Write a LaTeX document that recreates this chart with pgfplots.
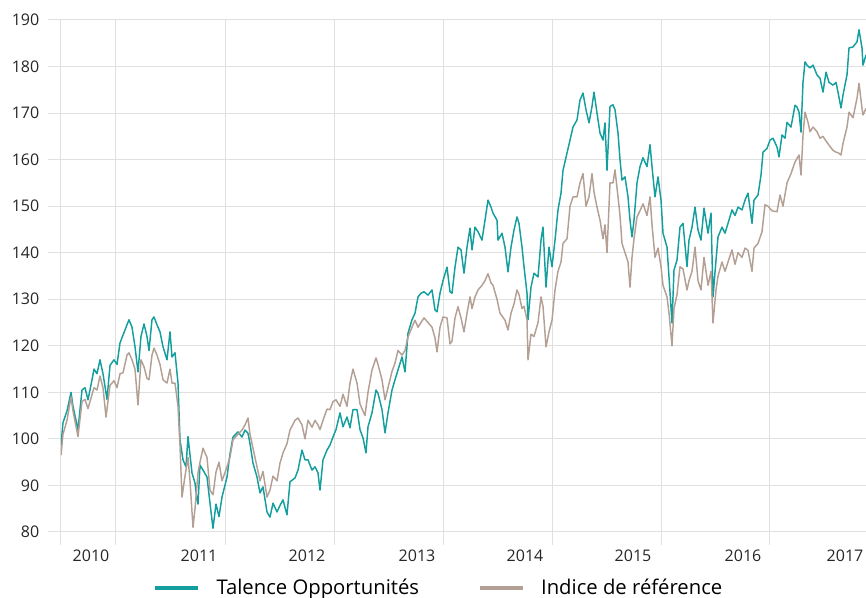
\documentclass[border=0pt]{standalone}
\usepackage{pgfplots}
\pgfplotsset{compat=1.18}
\usepackage{fontspec}
\setmainfont{Open Sans}
\definecolor{teal1}{RGB}{20,158,158}
\definecolor{beige1}{RGB}{180,159,148}
\definecolor{gridgray}{RGB}{224,224,224}
\begin{document}
\begin{tikzpicture}
\begin{axis}[
  width=603.75pt, height=384pt, scale only axis,
  xmin=61, xmax=866, ymin=80, ymax=190,
  axis line style={draw=none},
  tick pos=left, tick align=outside,
  major tick length=9.75pt,
  ytick={80,90,...,190},
  ymajorgrids,
  grid style={gridgray, line width=0.75pt},
  ytick style={gridgray, line width=0.75pt},
  xtick={91,199,307,417,525,633,743,845},
  xticklabels={2010,2011,2012,2013,2014,2015,2016,2017},
  xtick style={draw=none},
  extra x ticks={61,116,225,334,443,552,661,769},
  extra x tick labels={},
  extra x tick style={grid=major, xtick style={draw=gridgray, line width=0.75pt}},
  tick label style={font=\fontsize{12}{14}\selectfont, text=black!85},
  /pgf/number format/assume math mode=true,
  yticklabel style={xshift=-3pt},
  legend style={draw=none, fill=none, at={(0.4696,-0.109)}, anchor=center,
    legend columns=2, font=\fontsize{15.2}{18}\selectfont,
    /tikz/every even column/.append style={column sep=42pt}},
  legend image code/.code={\draw[#1, line width=3pt] (-2pt,0pt) -- (30.5pt,0pt); \path (41.5pt,0pt);},
]
\coordinate (ll) at (rel axis cs:0,0);
\coordinate (ur) at (rel axis cs:1,1);
\addplot[teal1, line width=1.1pt, line join=round] coordinates {
(61,98.7) (63,103.5) (67,106) (71,110) (73,107) (78,102) (82,110.5) (85,111) (88,108.4) (92,112.7)
(94,115) (97,114) (100,117) (103,114) (107,108.5) (110,115.8) (114,117) (117,116) (120,120.6) (123,122.3)
(127,124.5) (129,125.6) (132,124) (135,119.8) (138,114.4) (141,122) (144,124.7) (147,122) (149,119) (152,125.6)
(154,126.2) (157,124.5) (160,123) (163,119.8) (167,117) (170,123) (172,117.6) (175,118.5) (178,112) (180,99.8)
(183,95.5) (186,94) (188,100.5) (192,92.7) (195,90.5) (197,86.9) (198,86) (200,94.4) (203,93.3) (207,91.8)
(210,86.2) (213,80.8) (216,86) (219,83.3) (222,87.5) (227,91.8) (230,96.8) (233,100.4) (238,101.5) (242,100.4)
(245,101.9) (248,101.2) (250,99) (253,94.8) (257,91.8) (260,88.4) (263,89.7) (267,84.3) (270,83.2) (273,86.2)
(277,84.3) (280,85.7) (283,86.9) (287,83.7) (290,90.8) (295,91.6) (298,93.3) (302,97.6) (305,95.5) (308,95.5)
(312,93.3) (315,94) (318,92.7) (320,89) (323,95.5) (327,97.6) (330,98.7) (333,100.4) (336,102) (340,105.6)
(343,102.6) (347,104.7) (350,102.4) (353,106.3) (357,106.3) (360,102) (363,100.2) (366,97) (368,102.6) (372,105.6)
(376,110.5) (378,109.8) (382,106.3) (385,101.3) (388,105.6) (392,110.5) (395,112.7) (398,114.8) (402,117.6) (405,114.4)
(408,122.7) (412,125.6) (415,127) (418,130.5) (421,131.3) (424,131.6) (428,130.9) (432,132) (435,127.7) (437,127.3)
(440,131.3) (443,134) (447,136.9) (450,131.6) (452,131.3) (455,136.9) (458,141.2) (461,140.6) (464,135.6) (467,141.2)
(470,145.3) (472,140.6) (475,145.5) (478,144.5) (482,142.7) (485,147) (488,151.3) (491,149.8) (493,148.5) (497,147)
(498,142.7) (502,144.2) (505,141.2) (508,135.9) (511,141.2) (514,144.9) (517,147.7) (519,146.3) (522,141.2) (524,137)
(527,131.3) (528,125.6) (531,132.6) (534,135.6) (538,134.8) (541,142.7) (543,145.5) (546,132.6) (549,141.2) (552,137)
(555,142.7) (558,149.2) (561,152.8) (563,157.7) (567,161.4) (570,164.2) (573,167) (577,168.5) (580,172.8) (583,174.3)
(586,170.7) (589,167.9) (592,171.4) (594,174.5) (597,170) (600,165.7) (603,164.2) (605,167.9) (607,157.7) (610,171.4)
(613,171.8) (615,170.7) (618,165.7) (620,160) (622,155.6) (625,156.3) (628,152) (630,147) (632,143.4) (634,147)
(637,155) (640,158.5) (643,160.4) (647,158.5) (650,163.2) (652,158.5) (655,152) (658,156.3) (661,151.3) (663,144.2)
(667,141.2) (669,134.8) (672,124.9) (674,136.3) (677,138.4) (680,145.5) (683,146.3) (687,137) (689,142.7) (692,145.5)
(695,149.8) (698,144.9) (701,142.7) (704,149.6) (708,144.2) (711,148.5) (713,130.5) (716,138.4) (718,143.4) (722,145.5)
(725,144.2) (728,146.3) (732,149.2) (735,148) (738,149.8) (742,149.2) (745,151.3) (748,152.8) (752,146.3) (754,151.3)
(758,152.4) (761,156.7) (763,161.6) (767,162.4) (770,164.2) (773,164.6) (777,162.7) (779,160.6) (782,165.3) (785,164.6)
(787,168) (791,167) (795,171.7) (797,171.3) (799,170.2) (801,165.9) (803,176.6) (805,181) (807,180.3) (810,179.7)
(813,180.3) (817,178.2) (820,177.5) (823,174.5) (826,178.8) (829,176.6) (833,176) (836,176.6) (838,174.5) (841,171.1)
(843,173.9) (847,178.2) (849,184) (853,184.2) (857,185.3) (859,187.9) (862,184) (863,180.3) (866,182.5)
};
\addlegendentry{Talence Opportunités}
\addplot[beige1, line width=1.1pt, line join=round] coordinates {
(61,96.5) (63,101) (67,104) (71,109) (73,106) (78,100.5) (82,108) (85,108.5) (88,106.5) (92,109.5)
(94,111) (97,110.5) (100,113.5) (103,111) (106,104.7) (110,111.5) (114,112.5) (117,111) (120,114) (123,114.2)
(127,118) (129,118.5) (132,117) (135,115) (138,107.3) (141,117) (144,115.5) (147,113) (149,112.7) (152,118)
(154,119.5) (157,118) (160,116) (163,112.7) (167,112) (170,115) (172,112) (175,112) (178,107) (180,98.5)
(182,87.5) (185,92) (188,96) (190,91) (193,81) (195,85) (198,92.7) (200,95) (203,98) (207,96)
(210,89) (213,88) (216,92.9) (219,95) (222,91) (227,94) (230,96.1) (233,99.8) (238,101) (242,101.9)
(245,103) (248,104.5) (250,101) (253,98) (257,94) (260,91) (263,93) (267,87.5) (270,89) (273,92)
(277,91) (280,94.8) (283,97) (287,99) (290,101.9) (295,104) (298,104.5) (302,103) (305,100) (308,104)
(312,102.5) (315,104) (318,103) (320,102) (323,104) (327,106.4) (330,106.3) (333,108) (336,108.4) (340,107)
(343,109.6) (347,107) (350,112) (353,115) (357,112) (360,107.5) (365,105) (368,110) (372,114.8) (376,117.4)
(378,116) (382,112.7) (385,108.4) (388,111) (392,114.5) (395,116.3) (398,119) (402,118) (405,119) (408,121.9)
(412,124) (415,125.5) (418,124) (421,125) (424,126) (428,125) (432,124) (435,121.7) (437,118.7) (440,124)
(443,126.2) (447,126) (450,120.4) (452,121) (455,126) (458,128.4) (461,126) (464,123) (467,127) (470,130.5)
(472,128) (475,130.5) (478,132) (482,133) (485,134) (488,135.5) (491,133.5) (493,133) (497,130) (500,127)
(505,125.5) (508,123.4) (511,127) (514,129) (517,132) (519,131) (522,128) (524,128.5) (527,125.6) (528,117)
(531,122.5) (534,122) (538,125) (541,130.5) (543,128.5) (546,119.8) (549,123) (552,125.5) (555,132) (558,136)
(561,138) (563,142) (567,143) (570,150) (573,152) (577,152) (580,155) (583,157) (586,150) (589,152)
(592,157) (594,153) (597,149.8) (600,147) (603,143) (605,146) (607,140) (610,155) (613,155) (615,157.8)
(618,152) (620,148) (622,142) (625,140) (628,138) (630,132.6) (632,139) (634,143) (637,147.7) (640,149)
(643,150.5) (647,148) (650,152) (652,146) (655,139) (658,141) (661,137) (663,133) (667,130.5) (669,127)
(672,120) (674,128) (677,131) (680,137) (683,136.5) (687,132) (689,134) (692,136) (695,141.2) (698,134)
(701,132) (704,139) (708,133) (711,136) (713,124.9) (716,132) (718,135) (722,138) (725,136) (728,138)
(732,140.6) (735,137.5) (738,140) (742,139) (745,141) (748,140.5) (752,136) (754,141) (758,142) (762,144.5)
(765,150.3) (768,150) (772,149) (777,148.8) (780,152.4) (783,150) (787,155) (791,157) (795,159.5) (799,161)
(801,156.7) (803,165.3) (805,170.2) (808,168) (810,166) (813,167) (817,166) (820,164.6) (823,165) (826,164)
(829,163.1) (833,162) (836,161.6) (838,161.5) (841,161) (843,163.5) (847,167) (849,170.2) (853,169) (857,173.2)
(859,176.4) (862,171) (863,169.6) (866,171)
};
\addlegendentry{Indice de référence}
\end{axis}
\pgfresetboundingbox
\path[use as bounding box] ([xshift=-45.75pt,yshift=-49.5pt]ll) rectangle ([yshift=15pt]ur);
\end{tikzpicture}
\end{document}
